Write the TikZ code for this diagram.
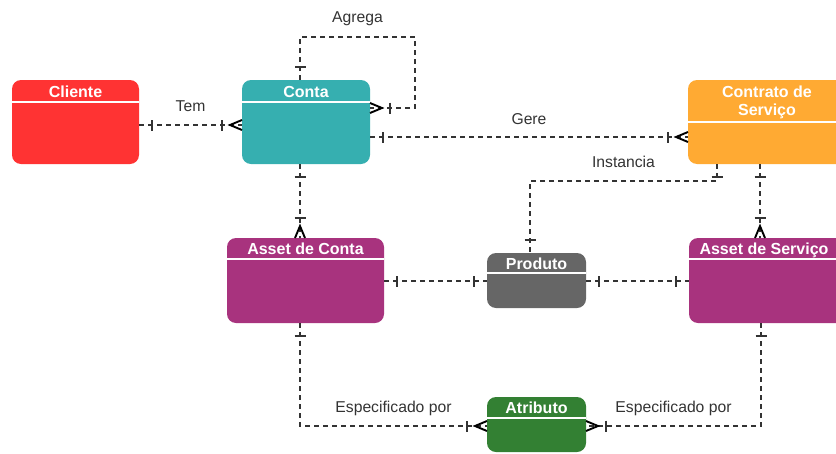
\documentclass[tikz,border=0pt]{standalone}
\usepackage{fontspec}
\setmainfont{Liberation Sans}
\usetikzlibrary{decorations.markings}

\definecolor{clienteRed}{HTML}{FF3333}
\definecolor{contaTeal}{HTML}{36AFB0}
\definecolor{contratoOrange}{HTML}{FFAA33}
\definecolor{assetPurple}{HTML}{A8337E}
\definecolor{produtoGray}{HTML}{666666}
\definecolor{atributoGreen}{HTML}{338033}
\definecolor{lineGray}{HTML}{333333}

\tikzset{
  one start/.style={postaction={decorate, decoration={markings,
    mark=at position 13pt with {\draw[solid, line width=1.5pt] (0,-5.5pt) -- (0,5.5pt);}}}},
  one end/.style={postaction={decorate, decoration={markings,
    mark=at position -13pt with {\draw[solid, line width=1.5pt] (0,-5.5pt) -- (0,5.5pt);}}}},
  many end/.style={postaction={decorate, decoration={markings,
    mark=at position -20pt with {\draw[solid, line width=1.5pt] (0,-5.5pt) -- (0,5.5pt);},
    mark=at position -12pt with {\draw[solid, draw=black, line width=1.9pt] (12pt,-5pt) -- (0,0) -- (12pt,5pt);}}}}
}

\begin{document}
\begin{tikzpicture}[x=1pt, y=-1pt, font=\fontsize{15.7}{18}\selectfont]

\tikzstyle{entity}=[rectangle, rounded corners=9pt, inner sep=0pt, outer sep=0pt]
\tikzstyle{hdr}=[text=white, font=\fontsize{16}{18}\selectfont\bfseries, align=center, anchor=base, inner sep=0pt]
\tikzstyle{hline}=[draw=white, line width=1.2pt]
\tikzstyle{er}=[draw=lineGray, line width=1.2pt, dash pattern=on 5pt off 4pt]
\tikzstyle{lbl}=[text=lineGray, inner sep=1pt]

\useasboundingbox (0,0) rectangle (836,453);
\clip (0,0) rectangle (836,453);

% entities
\node[entity, fill=clienteRed, minimum width=127pt, minimum height=84pt] (Cliente) at (75.5,122) {};
\node[hdr] at (75.5,97) {Cliente};
\draw[hline] (Cliente.west |- 0,102) -- (Cliente.east |- 0,102);

\node[entity, fill=contaTeal, minimum width=128pt, minimum height=84pt] (Conta) at (306,122) {};
\node[hdr] at (306,97) {Conta};
\draw[hline] (Conta.west |- 0,102) -- (Conta.east |- 0,102);

\node[entity, fill=contratoOrange, minimum width=158pt, minimum height=84pt] (Contrato) at (767,122) {};
\node[hdr, anchor=center] at (767,102) {Contrato de\\Serviço};
\draw[hline] (Contrato.west |- 0,122) -- (Contrato.east |- 0,122);

\node[entity, fill=assetPurple, minimum width=157pt, minimum height=85pt] (AssetConta) at (305.5,280.5) {};
\node[hdr] at (305.5,254) {Asset de Conta};
\draw[hline] (AssetConta.west |- 0,259) -- (AssetConta.east |- 0,259);

\node[entity, fill=produtoGray, minimum width=99pt, minimum height=55pt] (Produto) at (536.5,280.5) {};
\node[hdr] at (536.5,269) {Produto};
\draw[hline] (Produto.west |- 0,273) -- (Produto.east |- 0,273);

\node[entity, fill=assetPurple, minimum width=157pt, minimum height=85pt] (AssetServico) at (767.5,280.5) {};
\node[hdr] at (764,254) {Asset de Serviço};
\draw[hline] (AssetServico.west |- 0,259) -- (AssetServico.east |- 0,259);

\node[entity, fill=atributoGreen, minimum width=99pt, minimum height=55pt] (Atributo) at (536.5,424.5) {};
\node[hdr] at (536.5,413) {Atributo};
\draw[hline] (Atributo.west |- 0,418) -- (Atributo.east |- 0,418);

% bends of the connectors
\coordinate (agL) at (300,37);
\coordinate (agR) at (415,37);
\coordinate (inR) at (717,181);
\coordinate (inL) at (530,181);
\coordinate (esL) at (300,426);
\coordinate (esR) at (761,426);

% relations
\draw[er, one start, many end] (Cliente.east |- 0,125) -- node[lbl, yshift=19pt] {Tem} (Conta.west |- 0,125);
\draw[er, one start, many end] (Conta.north -| agL) -- (agL) -- node[lbl, yshift=18pt] {Agrega} (agR) |- (Conta.east |- 0,108);
\draw[er, one start, many end] (Conta.east |- 0,137) -- node[lbl, yshift=18pt] {Gere} (Contrato.west |- 0,137);
\draw[er, one start, one end] (Contrato.south -| inR) -- (inR) -- node[lbl, yshift=19pt] {Instancia} (inL) -- (Produto.north -| inL);
\draw[er, one start, many end] (Conta.south -| 300,0) -- (AssetConta.north -| 300,0);
\draw[er, one start, many end] (Contrato.south -| 760,0) -- (AssetServico.north -| 760,0);
\draw[er, one start, one end] (AssetConta.east |- 0,281) -- (Produto.west |- 0,281);
\draw[er, one start, one end] (Produto.east |- 0,281) -- (AssetServico.west |- 0,281);
\draw[er, one start, many end] (AssetConta.south -| esL) -- (esL) -- node[lbl, yshift=18pt] {Especificado por} (Atributo.west |- esL);
\draw[er, one start, many end] (AssetServico.south -| esR) -- (esR) -- node[lbl, yshift=18pt] {Especificado por} (Atributo.east |- esR);

\end{tikzpicture}
\end{document}
